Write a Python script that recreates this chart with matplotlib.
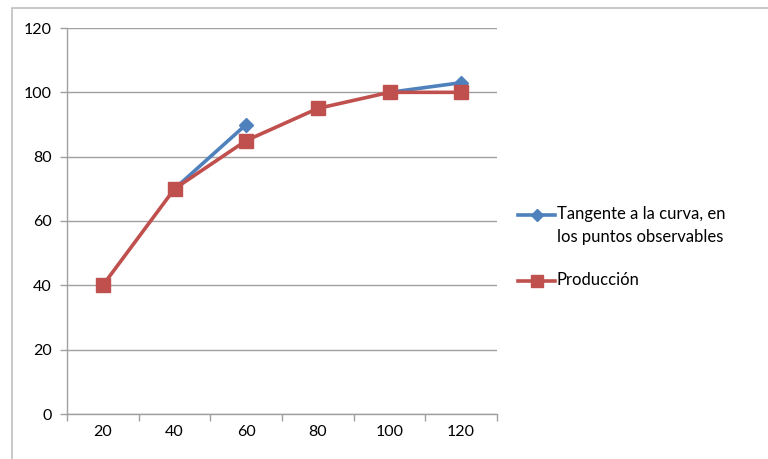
import matplotlib.pyplot as plt
from matplotlib.lines import Line2D
import numpy as np

plt.rcParams['font.family'] = ['Lato', 'DejaVu Sans']

categorias = ['20', '40', '60', '80', '100', '120']
tangente = [np.nan, 70, 90, np.nan, 100, 103]
produccion = [40, 70, 85, 95, 100, 100]
etiquetas = ['Tangente a la curva, en\nlos puntos observables', 'Producción']

azul = '#4F81BD'
rojo = '#C0504D'
gris = '#A0A0A0'

fig = plt.figure(figsize=(7.68, 4.59), dpi=100)
# borde del area del grafico (estilo Excel)
fig.patches.append(plt.Rectangle((12 / 768, -0.1), 2, 1.1 - 8 / 459, transform=fig.transFigure,
                                 fill=False, edgecolor='#BFBFBF', linewidth=1.2))
ax = fig.add_axes([67 / 768, 1 - 414 / 459, (497 - 67) / 768, (414 - 28) / 459])

x = np.arange(1, len(categorias) + 1)
ax.plot(x, tangente, color=azul, lw=2.6, marker='D', markersize=7, zorder=3)
ax.plot(x, produccion, color=rojo, lw=2.6, marker='s', markersize=10, zorder=4)

ax.set_xlim(0.5, len(categorias) + 0.5)
ax.set_ylim(0, 120)
ax.set_yticks(np.arange(0, 121, 20))
ax.set_xticks(np.arange(0.5, len(categorias) + 1, 1))
ax.set_xticklabels([])
ax.set_xticks(x, minor=True)
ax.set_xticklabels(categorias, minor=True)
ax.tick_params(axis='x', which='major', length=5, color=gris, width=1)
ax.tick_params(axis='x', which='minor', length=0, pad=8, labelsize=11.5)
ax.tick_params(axis='y', length=5, color=gris, width=1, labelsize=11.5, pad=6)
ax.yaxis.grid(True, color=gris, lw=1)
ax.set_axisbelow(True)
for s in ['top', 'right']:
    ax.spines[s].set_visible(False)
for s in ['left', 'bottom']:
    ax.spines[s].set_color(gris)
    ax.spines[s].set_linewidth(1)

# leyenda a mano, con la muestra alineada a la primera linea del texto
W, H = 768, 459
for ypix, col, mk, ms, txt in [(215, azul, 'D', 6, etiquetas[0]), (281, rojo, 's', 8, etiquetas[1])]:
    y = 1 - ypix / H
    fig.add_artist(Line2D([518 / W, 555 / W], [y, y], color=col, lw=2.6, transform=fig.transFigure))
    fig.add_artist(Line2D([536.5 / W], [y], color=col, marker=mk, markersize=ms, transform=fig.transFigure))
    fig.text(557 / W, 1 - (ypix - 9) / H, txt, fontsize=12, va='top', ha='left', linespacing=1.55)

fig.savefig('out.png', dpi=100)
